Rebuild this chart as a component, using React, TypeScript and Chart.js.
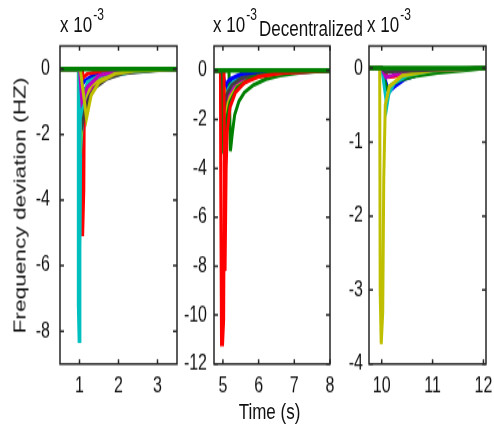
import { useEffect, useRef } from "react";
import Chart from "chart.js/auto";

type Pt = [number, number];

// deviation values are in units of 1e-3 Hz, as on the axes
const lineColors = ["#0000ff", "#008000", "#ff0000", "#00bfbf", "#bf00bf", "#bfbf00", "#404040"];
const steadyColor = "#008000";

// left panel: event at t = 1 s
const p1Series: Pt[][] = [
  [[0.5, 0], [1.02, 0], [1.1, -1.9], [1.14, -1.35], [1.22, -0.9], [1.38, -0.52], [1.65, -0.27], [2.0, -0.12], [2.5, -0.04], [3.5, 0]],
  [[0.5, 0], [1.0, 0], [1.12, -1.25], [1.2, -0.9], [1.35, -0.55], [1.6, -0.3], [2.0, -0.12], [2.6, -0.03], [3.5, 0]],
  [[0.5, 0], [1.07, 0], [1.08, -5.1], [1.11, -3.7], [1.12, -1.6], [1.2, -1.0], [1.35, -0.6], [1.6, -0.3], [2.0, -0.13], [2.5, -0.05], [3.5, 0]],
  [[0.5, 0], [0.97, 0], [0.97, -7.2], [0.99, -8.3], [1.01, -5.5], [1.03, -2.5], [1.1, -1.1], [1.25, -0.6], [1.5, -0.35], [1.9, -0.2], [2.3, -0.1], [2.8, -0.04], [3.5, 0]],
  [[0.5, 0], [1.0, 0], [1.08, -1.5], [1.15, -1.0], [1.3, -0.6], [1.55, -0.3], [2.0, -0.1], [2.8, -0.02], [3.5, 0]],
  [[0.5, 0], [0.99, 0], [1.01, -2.6], [1.05, -1.8], [1.1, -1.0], [1.3, -0.5], [1.6, -0.25], [2.2, -0.09], [2.8, -0.04], [3.5, 0]],
  [[0.5, 0], [1.0, 0], [1.09, -1.6], [1.16, -1.2], [1.25, -0.85], [1.42, -0.55], [1.7, -0.3], [2.1, -0.14], [2.9, -0.04], [3.5, 0]],
  [[0.5, 0], [1.0, 0], [1.05, -0.5], [1.15, -0.35], [1.4, -0.15], [1.8, -0.05], [3.5, 0]],
  [[0.5, 0], [1.0, 0], [1.07, -0.9], [1.15, -0.6], [1.35, -0.3], [1.7, -0.12], [2.3, -0.03], [3.5, 0]],
  [[0.5, 0], [1.0, 0], [1.04, -0.3], [1.2, -0.15], [1.6, -0.05], [3.5, 0]],
  [[0.5, 0], [0.99, 0], [1.0, -5.5], [1.02, -1.5], [1.2, -0.4], [1.6, -0.18], [2.1, -0.1], [2.5, -0.05], [3.5, 0]],
  [[0.5, 0], [1.0, 0], [1.06, -1.0], [1.2, -0.55], [1.5, -0.2], [2.0, -0.05], [3.5, 0]],
  [[0.5, 0], [1.02, 0], [1.18, -1.5], [1.3, -0.8], [1.5, -0.4], [1.9, -0.15], [2.4, -0.05], [3.5, 0]],
];
const p1Steady: Pt[] = [[0.5, 0], [3.5, 0]];
const p1XTicks = [1, 2, 3];
const p1YTicks = [0, -2, -4, -6, -8];

// middle panel (decentralized): event at t = 5 s
const p2Series: Pt[][] = [
  [[4.75, 0], [5.0, 0], [5.05, -0.9], [5.12, -0.6], [5.3, -0.35], [5.6, -0.18], [6.0, -0.07], [6.6, -0.02], [8, 0]],
  [[4.75, 0], [5.17, 0], [5.21, -3.3], [5.26, -2.6], [5.33, -1.8], [5.45, -1.25], [5.6, -0.9], [5.85, -0.6], [6.2, -0.35], [6.6, -0.2], [7.2, -0.08], [8, 0]],
  [[4.75, 0], [4.93, 0], [4.94, -4.8], [4.96, -11.2], [4.99, -11.2], [5.02, -10.2], [5.04, -3.8], [5.08, -2.0], [5.15, -1.3], [5.3, -0.8], [5.6, -0.4], [6.0, -0.2], [6.6, -0.08], [7.3, -0.02], [8, 0]],
  [[4.75, 0], [5.0, 0], [5.06, -1.2], [5.15, -0.75], [5.3, -0.45], [5.6, -0.25], [6.1, -0.12], [6.8, -0.04], [8, 0]],
  [[4.75, 0], [5.0, 0], [5.08, -1.4], [5.2, -0.9], [5.4, -0.55], [5.7, -0.32], [6.2, -0.16], [6.8, -0.08], [7.2, -0.06], [8, 0]],
  [[4.75, 0], [5.0, 0], [5.1, -1.6], [5.2, -1.1], [5.4, -0.65], [5.7, -0.4], [6.1, -0.22], [6.6, -0.1], [7.1, -0.04], [8, 0]],
  [[4.75, 0], [4.98, 0], [5.04, -1.5], [5.1, -1.0], [5.25, -0.6], [5.5, -0.32], [5.9, -0.14], [6.5, -0.04], [8, 0]],
  [[4.75, 0], [5.0, 0], [5.05, -0.6], [5.2, -0.35], [5.5, -0.15], [6.0, -0.05], [8, 0]],
  [[4.75, 0], [5.0, 0], [5.02, -3.4], [5.1, -2.0], [5.2, -1.3], [5.4, -0.7], [5.8, -0.3], [6.4, -0.1], [8, 0]],
  [[4.75, 0], [5.03, 0], [5.04, -3.5], [5.06, -8.2], [5.09, -4.0], [5.12, -2.5], [5.2, -1.5], [5.35, -0.9], [5.6, -0.5], [6.0, -0.25], [6.6, -0.1], [8, 0]],
];
const p2Steady: Pt[] = [[4.75, 0], [8, 0]];
const p2XTicks = [5, 6, 7, 8];
const p2YTicks = [0, -2, -4, -6, -8, -10, -12];

// right panel: event at t = 10 s
const p3Series: Pt[][] = [
  [[9.75, 0], [10.0, 0], [10.14, -0.32], [10.25, -0.25], [10.45, -0.15], [10.8, -0.07], [11.3, -0.02], [12.05, 0]],
  [[9.75, 0], [10.0, 0], [10.1, -0.28], [10.2, -0.22], [10.4, -0.15], [10.7, -0.1], [11.1, -0.06], [11.6, -0.03], [12.05, 0]],
  [[9.75, 0], [10.0, 0], [10.12, -0.12], [10.24, -0.11], [10.4, -0.07], [10.7, -0.03], [12.05, 0]],
  [[9.75, 0], [10.0, 0], [10.06, -0.3], [10.1, -0.52], [10.14, -0.35], [10.25, -0.2], [10.5, -0.1], [11.0, -0.03], [12.05, 0]],
  [[9.75, 0], [10.0, 0], [10.08, -0.12], [10.2, -0.1], [10.4, -0.06], [10.8, -0.02], [12.05, 0]],
  [[9.75, 0], [9.96, 0], [9.97, -3.03], [9.99, -3.73], [10.02, -3.3], [10.04, -1.5], [10.07, -0.5], [10.15, -0.25], [10.4, -0.1], [11.0, -0.03], [12.05, 0]],
  [[9.75, 0], [10.0, 0], [10.08, -0.05], [10.3, -0.04], [11.0, -0.02], [11.7, -0.005], [12.05, 0]],
];
const p3Steady: Pt[] = [[9.75, 0], [12.05, 0]];
const p3XTicks = [10, 11, 12];
const p3YTicks = [0, -1, -2, -3, -4];

const FONT = "'Liberation Sans', Arial, Helvetica, sans-serif";
// the figure is drawn short and stretched vertically, like the original
const FIG_W = 494;
const FIG_H = 320;
const STRETCH = 427 / FIG_H;
const PLOT_TOP = 46 / STRETCH;
const PLOT_BOTTOM = 364 / STRETCH;
const AXIS_W = 48;
const RIGHT_PAD = 14;

const boxTicks = {
  id: "boxTicks",
  afterDatasetsDraw(chart: any) {
    const { ctx, chartArea, scales } = chart;
    const { left, right, top, bottom } = chartArea;
    ctx.save();
    ctx.strokeStyle = "#262626";
    ctx.lineWidth = 1.5;
    ctx.strokeRect(left, top, right - left, bottom - top);
    ctx.beginPath();
    for (const t of scales.x.ticks) {
      const px = scales.x.getPixelForValue(t.value);
      ctx.moveTo(px, bottom);
      ctx.lineTo(px, bottom - 3.5);
      ctx.moveTo(px, top);
      ctx.lineTo(px, top + 3.5);
    }
    for (const t of scales.y.ticks) {
      const py = scales.y.getPixelForValue(t.value);
      ctx.moveTo(left, py);
      ctx.lineTo(left + 4, py);
      ctx.moveTo(right, py);
      ctx.lineTo(right - 4, py);
    }
    ctx.stroke();
    ctx.restore();
  },
};

type PanelProps = {
  series: Pt[][];
  steady: Pt[];
  xMin: number;
  xMax: number;
  yMin: number;
  yMax: number;
  xTicks: number[];
  yTicks: number[];
  plotLeft: number;
  plotWidth: number;
  labelGap: number;
};

function Panel(props: PanelProps) {
  const ref = useRef<HTMLCanvasElement>(null);
  const { series, steady, xMin, xMax, yMin, yMax, xTicks, yTicks, plotLeft, plotWidth, labelGap } = props;
  const width = AXIS_W + plotWidth + RIGHT_PAD;

  useEffect(() => {
    if (!ref.current) return;
    const lines = series.map((pts, i) => ({
      data: pts.map(([x, y]) => ({ x, y })),
      borderColor: lineColors[i % lineColors.length],
      borderWidth: 3,
    }));
    lines.push({ data: steady.map(([x, y]) => ({ x, y })), borderColor: steadyColor, borderWidth: 3.5 });
    // chart.js paints dataset 0 last, matlab paints the last line on top
    const datasets = lines.reverse().map((d) => ({
      ...d,
      pointRadius: 0,
      fill: false,
      tension: 0,
    }));

    const chart = new Chart(ref.current, {
      type: "line",
      data: { datasets },
      options: {
        animation: false,
        responsive: false,
        events: [],
        layout: { padding: { top: PLOT_TOP, right: RIGHT_PAD, left: 0, bottom: 0 } },
        plugins: { legend: { display: false }, tooltip: { enabled: false } },
        scales: {
          x: {
            type: "linear",
            min: xMin,
            max: xMax,
            grid: { display: false, drawTicks: false },
            border: { display: false },
            ticks: { color: "#111", font: { family: FONT, size: 16 }, padding: 7, maxRotation: 0, autoSkip: false },
            afterBuildTicks: (s: any) => {
              s.ticks = xTicks.map((v) => ({ value: v }));
            },
            afterFit: (s: any) => {
              s.height = FIG_H - PLOT_BOTTOM;
            },
          },
          y: {
            type: "linear",
            min: yMin,
            max: yMax,
            grid: { display: false, drawTicks: false },
            border: { display: false },
            ticks: { color: "#111", font: { family: FONT, size: 16 }, padding: labelGap, autoSkip: false },
            afterBuildTicks: (s: any) => {
              s.ticks = yTicks.map((v) => ({ value: v }));
            },
            afterFit: (s: any) => {
              s.width = AXIS_W;
            },
          },
        },
      },
      plugins: [boxTicks],
    });
    return () => {
      chart.destroy();
    };
  }, []);

  return (
    <canvas
      ref={ref}
      width={width}
      height={FIG_H}
      style={{ position: "absolute", left: plotLeft - AXIS_W, top: 0, width, height: FIG_H }}
    />
  );
}

function Scale10({ left }: { left: number }) {
  return (
    <div style={{ position: "absolute", left, top: 10, fontSize: 17, lineHeight: "17px", whiteSpace: "nowrap", color: "#111" }}>
      x 10
      <span style={{ position: "relative", top: -9, fontSize: 12, marginLeft: 1 }}>-3</span>
    </div>
  );
}

export default function App() {
  return (
    <div
      style={{
        position: "fixed",
        left: 0,
        top: 0,
        width: FIG_W,
        height: FIG_H,
        background: "#fff",
        fontFamily: FONT,
        transform: `scaleY(${STRETCH})`,
        transformOrigin: "0 0",
      }}
    >
      <Panel series={p1Series} steady={p1Steady} xMin={0.5} xMax={3.5} yMin={-9} yMax={0.7}
        xTicks={p1XTicks} yTicks={p1YTicks} plotLeft={60} plotWidth={117} labelGap={10} />
      <Panel series={p2Series} steady={p2Steady} xMin={4.75} xMax={8} yMin={-12} yMax={1}
        xTicks={p2XTicks} yTicks={p2YTicks} plotLeft={214} plotWidth={116} labelGap={7} />
      <Panel series={p3Series} steady={p3Steady} xMin={9.75} xMax={12.05} yMin={-4} yMax={0.3}
        xTicks={p3XTicks} yTicks={p3YTicks} plotLeft={369} plotWidth={117} labelGap={6} />
      <Scale10 left={60} />
      <Scale10 left={213} />
      <Scale10 left={367} />
      <div style={{ position: "absolute", left: 259, top: 13, fontSize: 17, lineHeight: "17px", whiteSpace: "nowrap", color: "#111" }}>
        Decentralized
      </div>
      <div
        style={{
          position: "absolute",
          left: 19.5,
          top: 153.6,
          fontSize: 17,
          lineHeight: "17px",
          whiteSpace: "nowrap",
          color: "#111",
          transform: "translate(-50%, -50%) rotate(-90deg)",
        }}
      >
        Frequency deviation (HZ)
      </div>
      <div
        style={{
          position: "absolute",
          left: 269.5,
          top: 300,
          fontSize: 17,
          lineHeight: "17px",
          whiteSpace: "nowrap",
          color: "#111",
          transform: "translateX(-50%)",
        }}
      >
        Time (s)
      </div>
    </div>
  );
}
